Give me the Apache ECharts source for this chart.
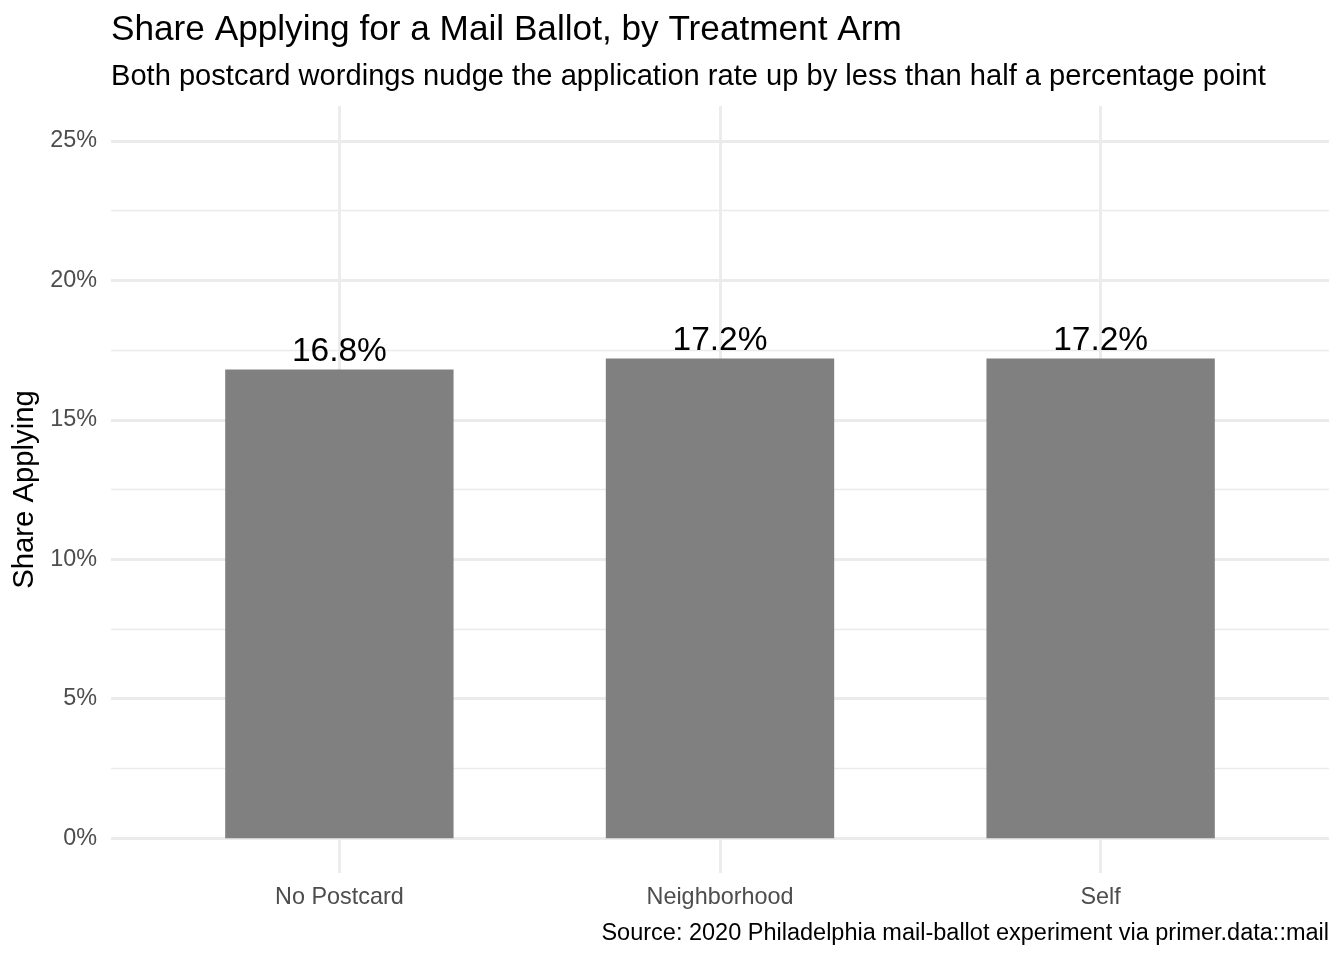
<!DOCTYPE html>
<html>
<head>
<meta charset="utf-8">
<script src="https://cdn.jsdelivr.net/npm/echarts@6/dist/echarts.min.js"></script>
<style>
html,body{margin:0;padding:0;background:#fff;}
#chart{width:1344px;height:960px;}
</style>
</head>
<body>
<div id="chart"></div>
<script>
const categories = ['No Postcard', 'Neighborhood', 'Self'];
const shares = [16.8, 17.2, 17.2];
const yMajorTicks = [0, 5, 10, 15, 20, 25];
const yMinorTicks = [2.5, 7.5, 12.5, 17.5, 22.5];
const titleText = 'Share Applying for a Mail Ballot, by Treatment Arm';
const subtitleText = 'Both postcard wordings nudge the application rate up by less than half a percentage point';
const captionText = 'Source: 2020 Philadelphia mail-ballot experiment via primer.data::mail';
const yAxisTitle = 'Share Applying';

const xPositions = categories.map((c, i) => i + 1);
const FONT = '"Liberation Sans", Arial, Helvetica, sans-serif';
const chart = echarts.init(document.getElementById('chart'), null, {renderer: 'canvas'});

chart.setOption({
  backgroundColor: '#ffffff',
  animation: false,
  title: [
    {text: titleText, left: 111, top: 13, padding: 0,
     textStyle: {fontFamily: FONT, fontSize: 35.2, fontWeight: 'normal', color: '#000000'}},
    {text: subtitleText, left: 111, top: 62, padding: 0,
     textStyle: {fontFamily: FONT, fontSize: 29.1, fontWeight: 'normal', color: '#000000'}},
    {text: captionText, right: 15, top: 922, padding: 0,
     textStyle: {fontFamily: FONT, fontSize: 23.5, fontWeight: 'normal', color: '#000000'}}
  ],
  grid: {left: 111, right: 15, top: 106, bottom: 87, containLabel: false},
  xAxis: {
    type: 'value', min: 0.4, max: 3.6,
    axisLine: {show: false},
    axisTick: {show: false, customValues: xPositions},
    axisLabel: {
      customValues: xPositions, margin: 13,
      fontFamily: FONT, fontSize: 23.4, color: '#4D4D4D',
      formatter: v => categories[Math.round(v) - 1] || ''
    },
    splitLine: {show: true, lineStyle: {color: '#EBEBEB', width: 2.8}}
  },
  yAxis: [
    {
      type: 'value', min: -1.25, max: 26.25,
      axisLine: {show: false},
      axisTick: {show: false, customValues: yMajorTicks},
      axisLabel: {customValues: yMajorTicks, margin: 14, fontFamily: FONT, fontSize: 23.4, color: '#4D4D4D',
                  padding: [4, 0, 0, 0], formatter: v => v + '%'},
      splitLine: {show: true, lineStyle: {color: '#EBEBEB', width: 2.8}},
      name: yAxisTitle, nameLocation: 'middle', nameGap: 67, nameRotate: 90,
      nameTextStyle: {fontFamily: FONT, fontSize: 29.3, color: '#000000'}
    },
    {
      type: 'value', min: -1.25, max: 26.25, position: 'right',
      axisLine: {show: false},
      axisTick: {show: false, customValues: yMinorTicks},
      axisLabel: {show: false, customValues: yMinorTicks},
      splitLine: {show: true, lineStyle: {color: '#EBEBEB', width: 1.4}}
    }
  ],
  series: [{
    type: 'bar',
    yAxisIndex: 0,
    data: categories.map((c, i) => [xPositions[i], shares[i]]),
    barWidth: '60%',
    itemStyle: {color: '#808080'},
    label: {
      show: true, position: 'top', distance: 1,
      fontFamily: FONT, fontSize: 33.5, color: '#000000',
      formatter: p => p.value[1].toFixed(1) + '%'
    }
  }]
});
</script>
</body>
</html>
